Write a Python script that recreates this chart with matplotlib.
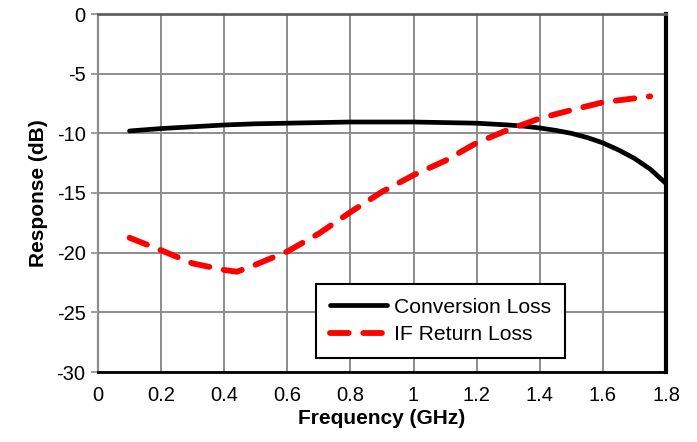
import matplotlib
matplotlib.use('Agg')
import matplotlib.pyplot as plt

plt.rcParams['font.family'] = ['Liberation Sans', 'DejaVu Sans']
plt.rcParams['axes.unicode_minus'] = False

# Conversion loss (dB) vs frequency (GHz)
cl_freq = [0.1, 0.2, 0.3, 0.4, 0.5, 0.6, 0.7, 0.8, 0.9, 1.0, 1.1, 1.2, 1.3, 1.35, 1.4, 1.45,
           1.5, 1.55, 1.6, 1.65, 1.7, 1.75, 1.8]
cl_db = [-9.8, -9.6, -9.45, -9.3, -9.2, -9.15, -9.1, -9.05, -9.05, -9.05, -9.1, -9.15, -9.3, -9.4,
         -9.55, -9.75, -10.0, -10.35, -10.8, -11.4, -12.1, -13.0, -14.2]

# IF return loss (dB) vs frequency (GHz)
rl_freq = [0.1, 0.2, 0.3, 0.4, 0.44, 0.5, 0.6, 0.7, 0.8, 0.9, 1.0, 1.1, 1.2, 1.3, 1.4, 1.5, 1.6, 1.75]
rl_db = [-18.75, -19.8, -20.9, -21.45, -21.6, -21.0, -19.9, -18.4, -16.6, -14.9, -13.5, -12.3,
         -10.8, -9.7, -8.75, -8.05, -7.4, -6.9]

x_ticks = [0, 0.2, 0.4, 0.6, 0.8, 1, 1.2, 1.4, 1.6, 1.8]
x_labels = ['0', '0.2', '0.4', '0.6', '0.8', '1', '1.2', '1.4', '1.6', '1.8']
y_ticks = [0, -5, -10, -15, -20, -25, -30]

fig = plt.figure(figsize=(6.97, 4.42), dpi=100)
ax = fig.add_axes([98/697, 1-372/442, 568/697, 358/442])

ax.plot(cl_freq, cl_db, color='black', lw=3.4, solid_capstyle='round',
        solid_joinstyle='round', label='Conversion Loss', zorder=3)
ax.plot(rl_freq, rl_db, color='#ff0000', lw=4.2, dashes=(3.2, 2.5), dash_capstyle='round',
        label='IF Return Loss', zorder=4)

ax.set_xlim(0, 1.8)
ax.set_ylim(-30, 0)
ax.set_xticks(x_ticks)
ax.set_xticklabels(x_labels)
ax.set_yticks(y_ticks)
ax.set_yticklabels([str(v) for v in y_ticks])
ax.grid(True, color='#8c8c8c', lw=1.4, zorder=0)
ax.tick_params(axis='y', length=5, color='#8c8c8c', width=1.2, labelsize=14.5, pad=4)
ax.tick_params(axis='x', length=0, labelsize=14.5, pad=10)

ax.spines['left'].set_color('#8c8c8c')
ax.spines['left'].set_linewidth(1.6)
ax.spines['top'].set_color('#606060')
ax.spines['top'].set_linewidth(2)
ax.spines['right'].set_color('black')
ax.spines['right'].set_linewidth(3)
ax.spines['bottom'].set_color('black')
ax.spines['bottom'].set_linewidth(2)

ax.set_xlabel('Frequency (GHz)', fontsize=15, fontweight='bold', labelpad=3)
ax.set_ylabel('Response (dB)', fontsize=15, fontweight='bold', labelpad=6)

leg = ax.legend(loc='lower left', bbox_to_anchor=(218/568, 14/358), fontsize=15.2,
                frameon=True, fancybox=False, framealpha=1, edgecolor='black',
                handlelength=2.7, handletextpad=0.35, borderpad=0.65, labelspacing=0.4,
                borderaxespad=0)
leg.get_frame().set_linewidth(1.5)

plt.savefig('out.png', dpi=100)
plt.close()
